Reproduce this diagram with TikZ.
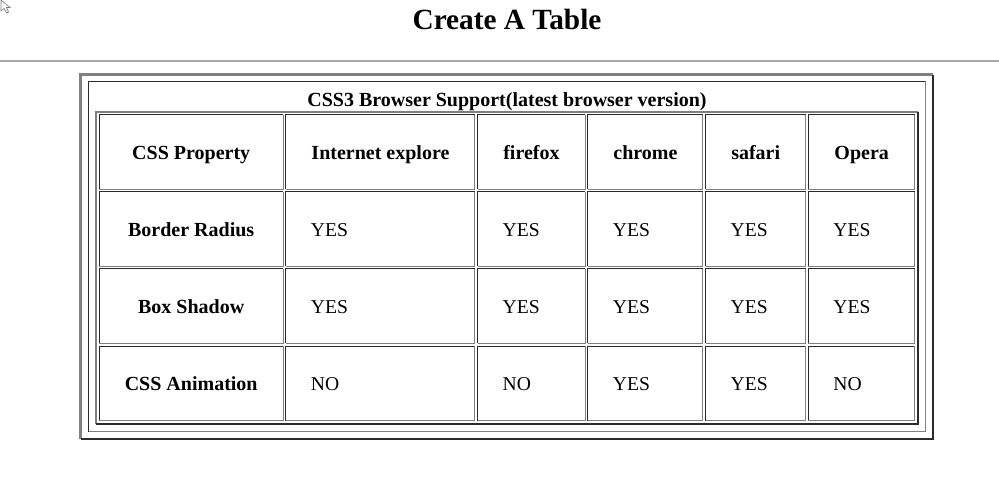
\documentclass[tikz,border=0pt]{standalone}
\usepackage{fontspec}
\setmainfont{Liberation Serif}
\usepackage{tikz}
\usetikzlibrary{positioning}
\definecolor{bdark}{HTML}{2B2B2B}
\definecolor{blight}{HTML}{808080}
\definecolor{hrgray}{HTML}{A8A8A8}
\tikzstyle{cell} = [rectangle, inner sep=0pt, outer sep=0pt, minimum height=74.5pt, text height=17pt, text depth=2pt, text centered, font=\fontsize{20}{24}\selectfont\bfseries]
\tikzstyle{valcell} = [rectangle, inner xsep=25pt, inner ysep=0pt, outer sep=0pt, minimum height=74.5pt, text height=17pt, text depth=2pt, align=left, font=\fontsize{19.6}{23}\selectfont]
\tikzstyle{darkline} = [draw=bdark, line width=1pt]
\tikzstyle{lightline} = [draw=blight, line width=1pt]
\tikzstyle{titletext} = [font=\fontsize{29.3}{34}\selectfont\bfseries]
\tikzstyle{captext} = [inner sep=0pt, text height=16pt, text depth=3pt, font=\fontsize{20}{24}\selectfont\bfseries]
\begin{document}
\begin{tikzpicture}[x=1pt, y=-1pt, node distance=2.67pt and 2.75pt]
		\useasboundingbox (0,0) rectangle (999,495);
		%页面标题和分隔线
		\draw[blight, line width=0.7pt, fill=white] (1,0) -- (1,11) -- (4,8.5) -- (6.5,13) -- (8.5,12) -- (6.5,7.5) -- (10,7.5) -- cycle;
		\node[titletext](title) at (507,19){Create A Table};
		\coordinate (hrleft) at (0,61);
		\coordinate (hrright) at (999,61);
		\draw[hrgray, line width=1.2pt] (hrleft) -- (hrright);
		%外层表格边框
		\draw[blight, line width=2.5pt] (80.7,438.8) |- (933,74.7);
		\draw[bdark, line width=2.5pt] (80.7,438.8) -| (933,74.7);
		\draw[darkline] (88.5,431.5) |- (925.5,81.5);
		\draw[lightline] (88.5,431.5) -| (925.5,81.5);
		\node[captext](caption) at (507,100){CSS3 Browser Support(latest browser version)};
		%内层表格边框
		\draw[blight, line width=2pt] (96,424.3) |- (917.7,112);
		\draw[bdark, line width=2pt] (96,424.3) -| (917.7,112);
		%表头
		\node[cell, minimum width=184pt](prop) at (191.2,151.75){CSS Property};
		\node[cell, minimum width=189pt, right = of prop](ie){Internet explore};
		\node[cell, minimum width=107.5pt, right = of ie](ff){firefox};
		\node[cell, minimum width=115pt, right = of ff](ch){chrome};
		\node[cell, minimum width=100pt, right = of ch](sf){safari};
		\node[cell, minimum width=106.5pt, right = of sf](op){Opera};
		%Border Radius
		\node[cell, minimum width=184pt, below = of prop](radius){Border Radius};
		\node[valcell, text width=139pt, below = of ie](radiusie){YES};
		\node[valcell, text width=57.5pt, below = of ff](radiusff){YES};
		\node[valcell, text width=65pt, below = of ch](radiusch){YES};
		\node[valcell, text width=50pt, below = of sf](radiussf){YES};
		\node[valcell, text width=56.5pt, below = of op](radiusop){YES};
		%Box Shadow
		\node[cell, minimum width=184pt, below = of radius](shadow){Box Shadow};
		\node[valcell, text width=139pt, below = of radiusie](shadowie){YES};
		\node[valcell, text width=57.5pt, below = of radiusff](shadowff){YES};
		\node[valcell, text width=65pt, below = of radiusch](shadowch){YES};
		\node[valcell, text width=50pt, below = of radiussf](shadowsf){YES};
		\node[valcell, text width=56.5pt, below = of radiusop](shadowop){YES};
		%CSS Animation
		\node[cell, minimum width=184pt, below = of shadow](anim){CSS Animation};
		\node[valcell, text width=139pt, below = of shadowie](animie){NO};
		\node[valcell, text width=57.5pt, below = of shadowff](animff){NO};
		\node[valcell, text width=65pt, below = of shadowch](animch){YES};
		\node[valcell, text width=50pt, below = of shadowsf](animsf){YES};
		\node[valcell, text width=56.5pt, below = of shadowop](animop){NO};
		%单元格边框
		\foreach \c in {prop,ie,ff,ch,sf,op,radius,radiusie,radiusff,radiusch,radiussf,radiusop,shadow,shadowie,shadowff,shadowch,shadowsf,shadowop,anim,animie,animff,animch,animsf,animop}
		{
			\draw[darkline] (\c.south west) |- (\c.north east);
			\draw[lightline] (\c.south west) -| (\c.north east);
		}
\end{tikzpicture}
\end{document}
